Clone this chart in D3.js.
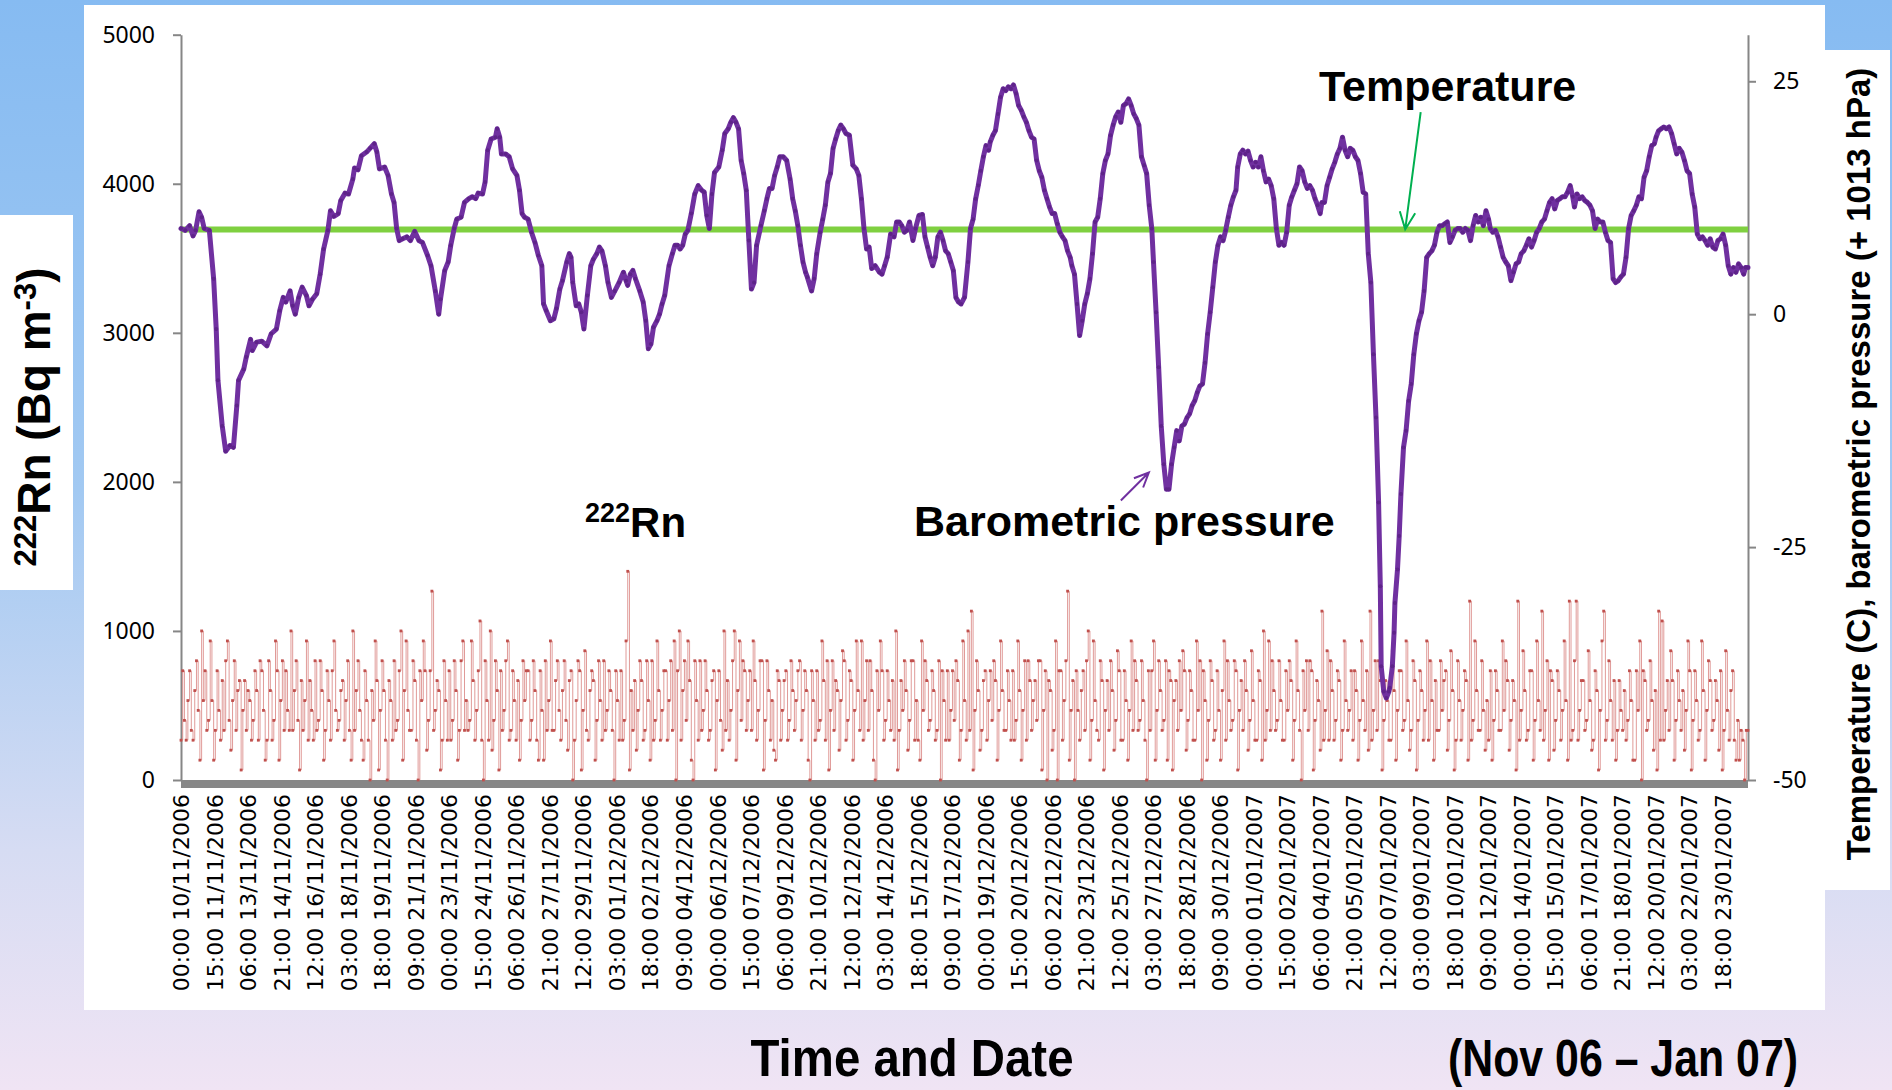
<!DOCTYPE html>
<html>
<head>
<meta charset="utf-8">
<script src="https://cdn.jsdelivr.net/npm/d3@7"></script>
<style>
  html, body { margin: 0; padding: 0; background: #fff; }
  svg { display: block; }
</style>
</head>
<body>
<div id="chart"></div>
<script>
// category labels shown on the time axis (one every 39 hours)
const tickLabels = [
  "00:00 10/11/2006", "15:00 11/11/2006", "06:00 13/11/2006", "21:00 14/11/2006",
  "12:00 16/11/2006", "03:00 18/11/2006", "18:00 19/11/2006", "09:00 21/11/2006",
  "00:00 23/11/2006", "15:00 24/11/2006", "06:00 26/11/2006", "21:00 27/11/2006",
  "12:00 29/11/2006", "03:00 01/12/2006", "18:00 02/12/2006", "09:00 04/12/2006",
  "00:00 06/12/2006", "15:00 07/12/2006", "06:00 09/12/2006", "21:00 10/12/2006",
  "12:00 12/12/2006", "03:00 14/12/2006", "18:00 15/12/2006", "09:00 17/12/2006",
  "00:00 19/12/2006", "15:00 20/12/2006", "06:00 22/12/2006", "21:00 23/12/2006",
  "12:00 25/12/2006", "03:00 27/12/2006", "18:00 28/12/2006", "09:00 30/12/2006",
  "00:00 01/01/2007", "15:00 02/01/2007", "06:00 04/01/2007", "21:00 05/01/2007",
  "12:00 07/01/2007", "03:00 09/01/2007", "18:00 10/01/2007", "09:00 12/01/2007",
  "00:00 14/01/2007", "15:00 15/01/2007", "06:00 17/01/2007", "21:00 18/01/2007",
  "12:00 20/01/2007", "03:00 22/01/2007", "18:00 23/01/2007"
];
const startLabel = "00:00 10/11/2006";
const totalHours = 1824;

const leftTicks = [0, 1000, 2000, 3000, 4000, 5000];
const rightTicks = [-50, -25, 0, 25];

// 222Rn, Bq m-3, one reading every 2 hours from the start
const radonStep = 2;
const radon = [
  267,733,400,267,533,733,333,267,600,800,467,133,1000,533,733,333,400,933,533,133,333,733,467,267,667,333,800,933,400,200,533,800,333,600,667,67,467,667,333,600,
  533,267,400,733,600,267,800,733,467,133,267,800,600,267,400,933,733,133,533,800,333,733,467,333,1000,333,600,800,400,67,667,333,533,933,267,667,467,267,800,333,
  400,800,600,133,333,733,533,267,733,933,467,333,400,600,667,267,533,800,333,133,1000,333,600,800,467,267,133,733,533,267,0,600,400,933,667,67,467,800,600,267,
  0,667,533,267,800,333,400,733,1000,133,600,933,467,333,333,800,667,267,0,733,533,933,733,200,400,733,1267,333,467,667,600,67,267,800,533,267,733,267,400,800,
  600,133,333,800,933,333,533,333,400,933,667,267,467,733,1067,267,0,800,533,267,1000,200,400,800,600,67,733,333,467,800,933,267,333,733,533,267,667,133,400,800,
  533,733,733,267,400,800,600,267,133,733,467,133,800,333,533,933,333,333,667,800,467,267,600,800,400,200,667,733,0,267,533,800,733,67,467,867,333,267,600,733,
  667,133,400,800,533,267,800,333,467,733,600,333,0,733,533,267,733,267,400,933,1400,67,600,333,667,200,467,800,667,267,333,800,533,133,800,267,400,933,600,267,
  467,733,733,267,533,800,333,933,0,733,1000,267,600,800,400,933,667,133,0,800,533,267,800,333,467,800,600,267,333,667,733,67,533,733,400,200,1000,333,667,267,
  467,800,1000,133,600,933,400,800,733,333,533,733,333,933,667,267,467,800,800,67,400,800,600,267,533,200,133,733,667,267,467,667,733,267,400,800,600,333,533,733,
  800,267,467,733,600,133,0,733,533,267,733,333,400,933,667,267,800,67,467,800,333,667,600,200,533,867,800,267,400,733,667,133,467,933,600,333,933,267,533,800,
  333,800,600,133,0,733,467,933,733,267,400,733,533,333,667,267,1000,67,333,667,467,800,600,200,400,800,800,267,533,267,133,933,467,800,667,333,400,733,600,267,
  333,800,0,733,533,267,733,267,467,733,400,800,667,133,333,933,533,267,1000,333,1133,67,467,800,600,200,333,667,733,267,533,733,400,800,667,133,467,933,600,333,
  333,733,533,267,733,267,400,933,600,133,467,800,267,800,667,333,533,667,400,800,800,67,467,733,0,667,600,200,333,933,0,733,733,267,533,800,1267,133,467,667,
  0,733,467,267,600,733,333,800,1000,133,400,933,533,333,267,800,667,67,467,667,333,800,600,200,400,867,733,267,267,733,533,133,467,933,333,800,667,333,400,800,
  533,267,0,733,333,733,933,133,467,800,600,333,400,800,133,733,667,67,533,667,333,800,467,867,733,200,400,733,600,267,267,933,467,800,0,733,533,133,400,800,
  667,267,333,733,467,133,600,933,267,800,533,333,400,800,733,67,467,667,333,800,600,200,400,867,533,267,267,733,667,133,1000,267,467,933,333,800,600,333,400,800,
  533,267,267,733,467,800,667,133,400,933,600,333,0,733,467,800,333,800,733,67,400,667,533,200,1133,267,467,867,267,800,600,267,400,733,667,133,333,933,533,333,
  467,733,267,733,600,133,400,933,533,333,733,200,1133,267,467,800,333,800,667,67,400,667,533,267,267,867,600,133,467,733,733,333,400,933,533,200,333,800,667,67,
  400,733,600,267,467,933,267,800,533,133,667,333,333,800,467,667,733,200,400,867,600,67,267,800,533,267,467,733,667,133,1200,267,400,933,600,333,333,800,467,200,
  533,267,733,133,400,733,600,333,333,933,467,800,667,200,400,667,533,67,1200,267,467,867,600,267,333,733,733,133,400,933,533,333,1133,267,467,800,133,733,667,200,
  400,733,600,267,467,933,533,133,1200,267,333,800,1200,267,467,667,667,333,400,867,533,200,267,733,600,67,467,933,1133,267,400,800,533,267,667,133,333,667,467,333,
  600,267,400,733,533,133,133,733,467,933,0,733,667,333,400,800,533,200,600,67,1133,267,1067,267,467,667,333,867,667,133,400,733,533,333,600,200,467,933,733,67,
  400,733,533,267,333,933,600,133,467,800,667,333,400,667,533,200,733,67,333,867,467,267,600,733,267,133,400,133,333,267,0,333,333
];

// temperature (C), right axis
const temperature = [[0, 9.1], [1824, 9.1]];

// barometric pressure (hPa above 1013), right axis: [hours from start, value]
const pressure = [
  [0,9.2],[5,9.0],[10,9.5],[14,8.4],[17,9.0],[21,11.0],[24,10.4],[27,9.2],[33,9.0],[38,3.8],
  [41,-1.6],[43,-7.1],[48,-12.0],[52,-14.7],[57,-14.1],[61,-14.3],[65,-9.8],[67,-7.1],[73,-5.9],[76,-4.6],
  [81,-2.7],[83,-3.9],[88,-3.0],[94,-2.9],[100,-3.4],[105,-2.1],[111,-1.6],[115,0.4],[119,1.8],[122,1.3],
  [127,2.5],[130,0.9],[133,0.0],[137,1.8],[141,2.9],[146,2.0],[149,0.9],[153,1.6],[158,2.2],[162,4.3],
  [166,7.0],[171,9.0],[174,11.1],[178,10.5],[183,10.8],[186,12.2],[191,13.0],[195,12.9],[200,14.5],[202,15.7],
  [206,15.5],[210,17.0],[216,17.4],[220,17.8],[225,18.3],[228,17.4],[231,15.6],[237,15.8],[241,14.9],[245,12.9],
  [248,12.0],[251,9.2],[254,7.9],[258,8.1],[263,8.3],[267,7.9],[272,8.9],[277,7.9],[281,7.7],[287,6.3],
  [291,5.2],[296,2.5],[300,0.0],[302,1.6],[307,4.7],[311,5.6],[314,7.4],[318,9.2],[321,10.2],[326,10.4],
  [330,12.0],[335,12.4],[339,12.6],[343,12.4],[346,13.0],[351,12.9],[354,14.2],[357,17.6],[361,18.8],[366,19.0],
  [368,19.9],[371,19.0],[373,17.2],[378,17.2],[382,16.9],[386,15.6],[391,14.9],[394,13.3],[397,10.8],[400,10.4],
  [404,10.2],[408,8.8],[412,7.7],[416,6.3],[420,5.2],[422,1.1],[425,0.4],[430,-0.7],[434,-0.5],[437,0.6],
  [441,2.7],[444,3.6],[449,5.6],[452,6.5],[454,6.1],[456,3.4],[460,0.9],[463,1.1],[466,0.2],[469,-1.6],
  [473,2.0],[477,5.2],[480,5.9],[484,6.5],[487,7.2],[490,6.8],[494,5.2],[497,3.4],[501,1.8],[505,2.5],
  [510,3.4],[515,4.5],[518,3.6],[520,3.1],[523,4.3],[526,4.7],[529,3.8],[534,2.5],[538,1.3],[541,-0.7],
  [544,-3.7],[547,-3.2],[550,-1.4],[554,-0.7],[557,0.0],[560,1.1],[563,2.0],[568,5.2],[572,6.5],[575,7.4],
  [578,7.4],[581,7.0],[584,7.4],[587,8.6],[590,9.0],[594,10.8],[598,12.9],[602,13.8],[606,13.3],[609,13.1],
  [612,10.6],[615,9.2],[618,12.9],[621,15.2],[626,15.8],[630,17.6],[633,19.4],[637,19.9],[640,20.6],[643,21.1],
  [646,20.6],[649,19.9],[652,16.5],[655,15.1],[658,13.3],[661,7.9],[664,2.7],[667,3.4],[670,7.4],[675,9.5],
  [679,11.1],[682,12.4],[685,13.5],[688,13.5],[691,14.9],[694,15.8],[697,16.9],[701,16.9],[705,16.5],[709,14.5],
  [712,12.4],[715,11.1],[718,9.5],[721,7.4],[724,5.6],[727,4.5],[729,4.0],[734,2.5],[737,3.8],[740,6.5],
  [744,8.8],[747,10.2],[750,11.7],[753,14.2],[756,15.1],[759,17.8],[762,18.8],[765,19.7],[768,20.3],[771,19.9],
  [774,19.4],[778,19.2],[782,16.0],[786,15.6],[789,14.9],[792,12.4],[795,9.2],[798,7.0],[801,7.2],[804,4.9],
  [808,5.2],[813,4.5],[816,4.3],[819,5.2],[822,6.1],[826,8.6],[830,8.3],[833,9.9],[836,9.9],[839,9.5],
  [842,8.8],[845,9.0],[848,9.9],[852,7.9],[855,9.2],[859,10.6],[863,10.7],[866,8.3],[869,7.2],[872,6.1],
  [875,5.2],[878,6.1],[881,8.3],[884,8.8],[887,7.9],[890,6.8],[893,6.5],[896,5.6],[899,4.7],[902,1.8],
  [905,1.3],[908,1.1],[912,1.8],[916,5.6],[919,9.2],[922,10.2],[925,12.4],[928,13.8],[931,15.4],[934,16.9],
  [937,18.1],[940,17.6],[942,18.5],[945,19.2],[948,19.7],[951,21.5],[954,23.3],[957,24.2],[960,24.0],[963,24.4],
  [966,24.2],[969,24.6],[972,23.7],[975,22.4],[978,21.9],[981,21.2],[984,20.6],[987,19.7],[990,19.0],[993,18.8],
  [996,16.5],[999,15.4],[1002,14.7],[1005,13.3],[1008,12.4],[1011,11.5],[1014,10.8],[1017,10.8],[1020,9.7],[1023,8.8],
  [1026,8.3],[1029,7.9],[1032,6.8],[1035,6.1],[1037,5.2],[1040,4.3],[1043,1.1],[1046,-2.3],[1049,-0.7],[1052,1.1],
  [1055,2.2],[1058,3.8],[1061,6.5],[1064,9.9],[1067,10.4],[1070,12.4],[1073,15.1],[1076,16.5],[1079,17.2],[1082,19.2],
  [1085,20.3],[1088,21.2],[1091,21.7],[1094,20.6],[1097,22.4],[1100,22.6],[1103,23.1],[1106,22.4],[1109,21.5],[1112,21.0],
  [1115,20.3],[1118,16.9],[1121,16.0],[1124,15.1],[1127,11.7],[1130,9.2],[1132,5.6],[1135,0.2],[1138,-5.7],[1141,-12.0],
  [1144,-16.1],[1147,-18.8],[1150,-18.8],[1153,-16.1],[1156,-14.3],[1159,-12.5],[1162,-13.6],[1165,-12.0],[1168,-11.8],[1171,-11.1],
  [1174,-10.7],[1177,-9.8],[1180,-9.3],[1183,-8.4],[1186,-7.7],[1189,-7.5],[1192,-5.2],[1195,-2.1],[1198,0.2],[1201,2.9],
  [1204,5.6],[1207,7.4],[1210,8.3],[1213,7.9],[1216,9.0],[1219,10.4],[1222,11.7],[1225,12.6],[1228,13.3],[1230,15.8],
  [1233,17.2],[1236,17.6],[1239,17.2],[1242,17.5],[1245,16.5],[1248,15.8],[1251,16.3],[1254,15.8],[1257,16.9],[1260,15.4],
  [1263,14.2],[1266,14.5],[1269,13.8],[1272,12.4],[1275,9.2],[1278,7.4],[1281,7.7],[1284,7.4],[1287,8.8],[1290,11.7],
  [1293,12.6],[1296,13.3],[1299,14.0],[1302,15.8],[1305,15.4],[1308,14.2],[1311,13.5],[1314,13.8],[1317,13.3],[1320,12.4],
  [1323,11.7],[1326,10.8],[1328,12.0],[1331,12.0],[1334,13.8],[1337,14.7],[1340,15.6],[1343,16.3],[1346,17.2],[1349,17.8],
  [1352,19.0],[1355,17.6],[1358,16.9],[1361,17.8],[1364,17.6],[1367,16.9],[1370,16.5],[1373,15.1],[1376,13.1],[1379,12.9],
  [1382,6.5],[1385,3.4],[1388,-4.3],[1391,-11.1],[1394,-20.2],[1396,-29.2],[1397,-37.8],[1400,-40.5],[1403,-41.2],[1406,-40.5],
  [1407,-40.1],[1410,-37.8],[1412,-34.2],[1413,-31.0],[1416,-27.4],[1418,-23.8],[1420,-19.3],[1423,-14.3],[1426,-12.5],[1429,-9.3],
  [1432,-7.5],[1435,-4.3],[1438,-2.1],[1441,-0.7],[1444,0.2],[1447,2.5],[1450,6.1],[1453,6.5],[1456,6.8],[1459,7.4],
  [1462,8.8],[1465,9.5],[1468,9.5],[1471,9.7],[1474,9.9],[1477,7.7],[1480,8.3],[1483,9.0],[1486,9.2],[1489,9.2],
  [1492,8.8],[1495,9.2],[1498,9.0],[1501,7.9],[1504,9.5],[1507,10.6],[1510,9.9],[1513,10.4],[1516,9.5],[1519,11.1],
  [1522,10.2],[1524,9.2],[1527,8.8],[1530,9.0],[1533,8.3],[1536,7.2],[1539,6.1],[1542,5.6],[1545,5.2],[1548,3.6],
  [1551,4.5],[1554,5.4],[1557,5.6],[1560,6.5],[1563,6.8],[1566,7.4],[1569,8.1],[1572,7.2],[1575,7.9],[1578,8.8],
  [1581,9.2],[1584,9.9],[1587,10.2],[1590,11.1],[1593,12.0],[1596,12.4],[1599,11.3],[1602,12.2],[1605,12.4],[1608,12.6],
  [1611,12.6],[1614,13.1],[1617,13.8],[1620,12.6],[1622,11.5],[1625,12.9],[1628,12.4],[1631,12.6],[1634,12.2],[1637,12.0],
  [1640,11.7],[1643,11.1],[1646,9.2],[1649,10.2],[1652,9.9],[1655,9.9],[1658,8.8],[1661,7.9],[1664,7.7],[1667,3.8],
  [1670,3.4],[1673,3.6],[1676,4.0],[1679,4.3],[1682,6.1],[1685,9.2],[1688,10.6],[1691,11.1],[1694,11.7],[1697,12.6],
  [1700,12.4],[1703,14.7],[1706,15.4],[1709,16.9],[1712,18.1],[1715,18.3],[1717,19.0],[1720,19.7],[1723,19.9],[1726,20.1],
  [1729,19.9],[1732,20.1],[1735,19.4],[1738,18.3],[1741,17.2],[1744,17.8],[1747,17.4],[1750,16.5],[1753,15.4],[1756,15.1],
  [1759,12.9],[1762,11.5],[1765,8.6],[1768,8.1],[1771,8.3],[1774,7.9],[1777,7.4],[1780,8.1],[1783,7.2],[1786,7.0],
  [1789,7.9],[1792,8.1],[1795,8.6],[1798,7.4],[1801,5.2],[1804,4.3],[1807,5.0],[1810,4.5],[1813,5.4],[1816,5.0],
  [1819,4.3],[1821,5.0],[1824,5.0]
];

const W = 1892, H = 1090;
const plotLeft = 181, plotRight = 1748, plotTop = 34.7, plotBottom = 780;

const svg = d3.select("#chart").append("svg")
  .attr("width", W)
  .attr("height", H);

// slide background
const grad = svg.append("defs").append("linearGradient")
  .attr("id", "bg").attr("x1", 0).attr("y1", 0).attr("x2", 0).attr("y2", 1);
grad.append("stop").attr("offset", 0).attr("stop-color", "#86bbf2");
grad.append("stop").attr("offset", 0.45).attr("stop-color", "#a2c9f2");
grad.append("stop").attr("offset", 0.78).attr("stop-color", "#d6dcf3");
grad.append("stop").attr("offset", 1).attr("stop-color", "#f0e4f4");
svg.append("rect").attr("width", W).attr("height", H).attr("fill", "url(#bg)");

svg.append("rect").attr("x", 84).attr("y", 5).attr("width", 1741).attr("height", 1005).attr("fill", "#fff");
svg.append("rect").attr("x", 0).attr("y", 215).attr("width", 73).attr("height", 375).attr("fill", "#fff");
svg.append("rect").attr("x", 1825).attr("y", 50).attr("width", 65).attr("height", 840).attr("fill", "#fff");

// scales
const parseLabel = d3.utcParse("%H:%M %d/%m/%Y");
const t0 = parseLabel(startLabel);
const tickHours = tickLabels.map(s => (parseLabel(s) - t0) / 36e5);

const x = d3.scaleLinear().domain([0, totalHours]).range([plotLeft, plotRight]);
const yL = d3.scaleLinear().domain([0, 5000]).range([plotBottom, plotTop]);
const yR = d3.scaleLinear().domain([-50, 30]).range([plotBottom, plotTop]);

// axes
const axisColor = "#868686";
const plain = d => String(d);
const gL = svg.append("g")
  .attr("transform", `translate(${plotLeft},0)`)
  .call(d3.axisLeft(yL).tickValues(leftTicks).tickFormat(plain)
    .tickSize(8).tickSizeOuter(0).tickPadding(18));
const gR = svg.append("g")
  .attr("transform", `translate(${plotRight},0)`)
  .call(d3.axisRight(yR).tickValues(rightTicks).tickFormat(plain)
    .tickSize(8).tickSizeOuter(0).tickPadding(17));
[gL, gR].forEach(g => {
  g.select(".domain").attr("stroke", axisColor).attr("stroke-width", 2);
  g.selectAll(".tick line").attr("stroke", axisColor).attr("stroke-width", 2);
  g.selectAll("text")
    .attr("fill", "#000")
    .style("font-family", "'Noto Sans', sans-serif")
    .style("font-size", "23px");
});

// thick grey baseline
svg.append("line")
  .attr("x1", x(0)).attr("x2", x(totalHours))
  .attr("y1", yL(0) + 4).attr("y2", yL(0) + 4)
  .attr("stroke", "#878787").attr("stroke-width", 8);

const gB = svg.append("g")
  .attr("transform", `translate(0,${yL(0) + 8})`)
  .call(d3.axisBottom(x).tickValues(tickHours).tickFormat((d, i) => tickLabels[i]).tickSize(0));
gB.select(".domain").remove();
gB.selectAll("text")
  .attr("transform", "rotate(-90)")
  .attr("x", -6)
  .attr("y", 0)
  .attr("dy", "0.36em")
  .attr("text-anchor", "end")
  .attr("fill", "#000")
  .style("font-family", "'DejaVu Sans', sans-serif")
  .style("font-size", "22px");

// radon series
const radonLine = d3.line()
  .x((d, i) => x(i * radonStep))
  .y(d => yL(d))
  .curve(d3.curveStepAfter);
svg.append("path")
  .datum(radon)
  .attr("fill", "none")
  .attr("stroke", "#dc8f8c")
  .attr("stroke-width", 0.9)
  .attr("d", radonLine);
svg.append("g").selectAll("rect")
  .data(radon)
  .join("rect")
  .attr("x", (d, i) => x(i * radonStep) - 1.4)
  .attr("y", d => yL(d) - 1.4)
  .attr("width", 2.8)
  .attr("height", 2.8)
  .attr("fill", "#c0504d");

// temperature
svg.append("path")
  .datum(temperature)
  .attr("fill", "none")
  .attr("stroke", "#7fd040")
  .attr("stroke-width", 6)
  .attr("d", d3.line().x(d => x(d[0])).y(d => yR(d[1])));

// barometric pressure
svg.append("path")
  .datum(pressure)
  .attr("fill", "none")
  .attr("stroke", "#7030a0")
  .attr("stroke-width", 5)
  .attr("stroke-linejoin", "round")
  .attr("stroke-linecap", "round")
  .attr("d", d3.line().x(d => x(d[0])).y(d => yR(d[1])));
svg.append("g").selectAll("circle")
  .data(pressure)
  .join("circle")
  .attr("cx", d => x(d[0]))
  .attr("cy", d => yR(d[1]))
  .attr("r", 2)
  .attr("fill", "#5e2389");

// annotations
function arrow(x1, y1, x2, y2, color, len) {
  const a = Math.atan2(y2 - y1, x2 - x1), sp = 0.42;
  svg.append("path")
    .attr("d", `M${x1},${y1}L${x2},${y2}` +
      `M${x2 - len * Math.cos(a - sp)},${y2 - len * Math.sin(a - sp)}L${x2},${y2}` +
      `L${x2 - len * Math.cos(a + sp)},${y2 - len * Math.sin(a + sp)}`)
    .attr("fill", "none")
    .attr("stroke", color)
    .attr("stroke-width", 2);
}

const bold = "'Liberation Sans', Arial, sans-serif";
svg.append("text")
  .attr("x", 1319).attr("y", 101)
  .style("font-family", bold).style("font-weight", "bold").style("font-size", "43px")
  .text("Temperature");
arrow(x(1443), yR(21.7), x(1425), yR(9.1), "#00b050", 19);

svg.append("text")
  .attr("x", 914).attr("y", 536)
  .style("font-family", bold).style("font-weight", "bold").style("font-size", "43px")
  .text("Barometric pressure");
arrow(x(1094), yR(-20), x(1126.6), yR(-17), "#7030a0", 16);

const rn = svg.append("text")
  .attr("x", 585).attr("y", 537)
  .style("font-family", bold).style("font-weight", "bold").style("font-size", "42px");
rn.append("tspan").style("font-size", "27px").attr("dy", -15).text("222");
rn.append("tspan").attr("dy", 15).text("Rn");

// axis titles
const lt = svg.append("text")
  .attr("transform", "translate(50,417) rotate(-90)")
  .attr("text-anchor", "middle")
  .style("font-family", bold).style("font-weight", "bold").style("font-size", "46px");
lt.append("tspan").style("font-size", "31px").attr("dy", -14).text("222");
lt.append("tspan").attr("dy", 14).text("Rn (Bq m");
lt.append("tspan").style("font-size", "31px").attr("dy", -14).text("-3");
lt.append("tspan").attr("dy", 14).text(")");

svg.append("text")
  .attr("transform", "translate(1870,464) rotate(-90)")
  .attr("text-anchor", "middle")
  .style("font-family", bold).style("font-weight", "bold").style("font-size", "33px")
  .text("Temperature (C), barometric pressure (+ 1013 hPa)");

svg.append("text")
  .attr("x", 912).attr("y", 1076)
  .attr("text-anchor", "middle")
  .attr("textLength", 323).attr("lengthAdjust", "spacingAndGlyphs")
  .style("font-family", bold).style("font-weight", "bold").style("font-size", "51px")
  .text("Time and Date");

svg.append("text")
  .attr("x", 1448).attr("y", 1076)
  .attr("textLength", 350).attr("lengthAdjust", "spacingAndGlyphs")
  .style("font-family", bold).style("font-weight", "bold").style("font-size", "51px")
  .text("(Nov 06 \u2013 Jan 07)");
</script>
</body>
</html>
